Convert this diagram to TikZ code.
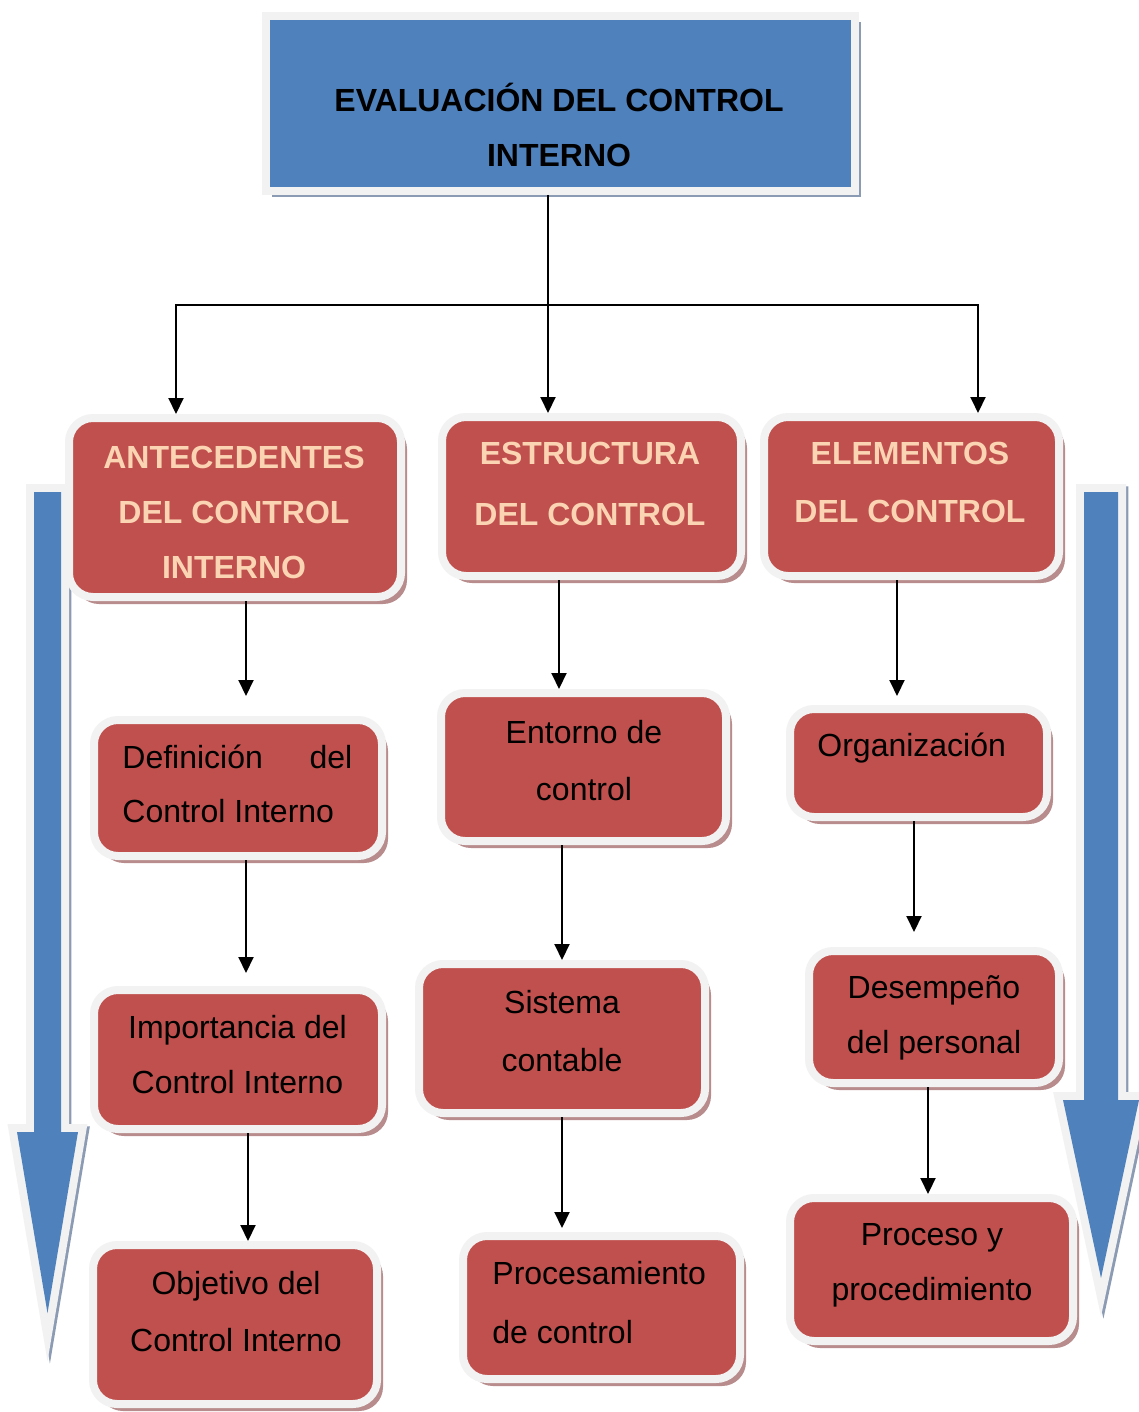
\documentclass[tikz,border=0pt]{standalone}
\usepackage{fontspec}
\setmainfont{Liberation Sans}
\usetikzlibrary{arrows.meta,fit,shadows}
\definecolor{boxred}{HTML}{C0504D}
\definecolor{boxblue}{HTML}{4F81BD}
\definecolor{peach}{HTML}{FBD4B4}
\definecolor{glow}{HTML}{F2F2F2}
\definecolor{redshadow}{RGB}{184,140,140}
\definecolor{blueshadow}{RGB}{140,155,180}
\newcommand\mylines[3]{{\fontsize{16pt}{#1}\selectfont\begin{tabular}[t]{@{}#2@{}}#3\end{tabular}}}
\begin{document}
\begin{tikzpicture}[x=0.5pt,y=-0.5pt,
  redbox/.style={draw=glow, line width=4pt, fill=boxred, rounded corners=12pt, inner sep=2pt,
     drop shadow={shadow xshift=3pt, shadow yshift=-3.5pt, fill=redshadow, opacity=1}},
  topbox/.style={draw=glow, line width=4pt, fill=boxblue, inner sep=2pt,
     drop shadow={shadow xshift=2.8pt, shadow yshift=-3.2pt, fill=blueshadow, opacity=1}},
  txt/.style={inner sep=0pt, anchor=base},
  conn/.style={line width=1pt},
  arr/.style={line width=1pt, -{Triangle[width=7.5pt,length=8pt]}},
  bigarrow/.style={fill=boxblue, line join=miter,
     preaction={draw=blueshadow, line width=8pt, line join=miter, transform canvas={shift={(1.2pt,-1.2pt)}}},
     preaction={draw=glow, line width=8pt, line join=miter}}
]
\useasboundingbox (0,0) rectangle (1139,1412);
\fill[white] (0,0) rectangle (1139,1412);

% big side arrows
\path[bigarrow] (34,492) -- (61,492) -- (61,1132) -- (78,1132) -- (47.5,1313) -- (17,1132) -- (34,1132) -- cycle;
\path[bigarrow] (1084,492) -- (1118,492) -- (1118,1100) -- (1139,1100) -- (1101,1278) -- (1063,1100) -- (1084,1100) -- cycle;

% boxes
\node[topbox, fit={(270,20) (851,187)}] (top) {};
\node[redbox, fit={(73,422) (397,593)}] (ant) {};
\node[redbox, fit={(446,421) (737,572)}] (est) {};
\node[redbox, fit={(768,421) (1055,572)}] (ele) {};
\node[redbox, fit={(98,724) (378,852)}] (def) {};
\node[redbox, fit={(445,697) (722,837)}] (ent) {};
\node[redbox, fit={(794,713) (1043,813)}] (org) {};
\node[redbox, fit={(98,994) (378,1125)}] (imp) {};
\node[redbox, fit={(423,968) (701,1109)}] (sis) {};
\node[redbox, fit={(813,955) (1055,1079)}] (des) {};
\node[redbox, fit={(97,1249) (373,1400)}] (obj) {};
\node[redbox, fit={(467,1240) (736,1375)}] (proc) {};
\node[redbox, fit={(794,1202) (1069,1337)}] (proy) {};

% texts
\node[txt, font=\bfseries] (ttop) at (559,111.5) {\mylines{27.5pt}{c}{EVALUACIÓN DEL CONTROL\\INTERNO}};
\node[txt, font=\bfseries, text=peach] (tant) at (234,468) {\mylines{27.5pt}{c}{ANTECEDENTES\\DEL CONTROL\\INTERNO}};
\node[txt, font=\bfseries, text=peach] (test) at (590,464) {\mylines{30.5pt}{c}{ESTRUCTURA\\DEL CONTROL}};
\node[txt, font=\bfseries, text=peach] (tele) at (910,464) {\mylines{29pt}{c}{ELEMENTOS\\DEL CONTROL}};
\node[txt, anchor=base west] (tdef) at (122,768) {\mylines{27pt}{l}{\makebox[115pt][l]{Definición\hfill del}\\Control Interno}};
\node[txt] (tent) at (584,743) {\mylines{28.5pt}{c}{Entorno de\\control}};
\node[txt, anchor=base west] (torg) at (817,756) {\mylines{28pt}{l}{Organización}};
\node[txt] (timp) at (237.5,1038) {\mylines{27.5pt}{c}{Importancia del\\Control Interno}};
\node[txt] (tsis) at (562,1013) {\mylines{29pt}{c}{Sistema\\contable}};
\node[txt] (tdes) at (934,998) {\mylines{27.5pt}{c}{Desempeño\\del personal}};
\node[txt] (tobj) at (236,1294) {\mylines{28.5pt}{c}{Objetivo del\\Control Interno}};
\node[txt, anchor=base west] (tproc) at (492,1284) {\mylines{29.5pt}{l}{Procesamiento\\de control}};
\node[txt] (tproy) at (932,1245) {\mylines{27.5pt}{c}{Proceso y\\procedimiento}};

% connectors
\coordinate (j) at (548,305);
\draw[conn] (top.south -| j) -- (j);
\draw[arr] (j) -| (ant.north -| 176,0);
\draw[arr] (j) -- (est.north -| j);
\draw[arr] (j) -| (ele.north -| 978,0);
\draw[arr, shorten >=10pt] (ant.south -| 246,0) -- (def.north -| 246,0);
\draw[arr] (est.south -| 559,0) -- (ent.north -| 559,0);
\draw[arr, shorten >=4.5pt] (ele.south -| 897,0) -- (org.north -| 897,0);
\draw[arr, shorten >=6.5pt] (def.south -| 246,0) -- (imp.north -| 246,0);
\draw[arr] (ent.south -| 562,0) -- (sis.north -| 562,0);
\draw[arr, shorten >=7.5pt] (org.south -| 914,0) -- (des.north -| 914,0);
\draw[arr] (imp.south -| 248,0) -- (obj.north -| 248,0);
\draw[arr, shorten >=2pt] (sis.south -| 562,0) -- (proc.north -| 562,0);
\draw[arr] (des.south -| 928,0) -- (proy.north -| 928,0);
\end{tikzpicture}
\end{document}
